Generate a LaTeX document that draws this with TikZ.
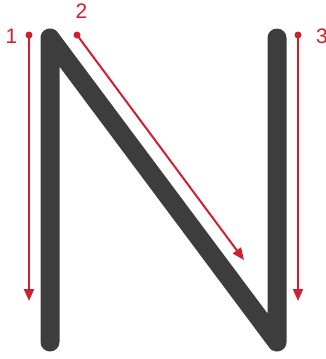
\documentclass[tikz,border=0pt]{standalone}
\usepackage{fontspec}
\setmainfont{Liberation Sans}
\usetikzlibrary{arrows.meta}
\definecolor{nred}{HTML}{D0202E}
\definecolor{ngray}{HTML}{3D3D3D}
\begin{document}
\begin{tikzpicture}[x=1pt,y=-1pt,
  letter/.style={draw=ngray,line width=19pt,line cap=round,line join=round},
  guide/.style={draw=nred,line width=2pt,-{Triangle[length=12pt,width=10pt]}},
  startdot/.style={fill=nred},
  numlabel/.style={text=nred,font=\fontsize{21}{21}\selectfont,inner sep=0pt}]
\useasboundingbox (0,0) rectangle (325,359);
\clip (0,0) rectangle (325,359);
\coordinate (bl) at (50,342);
\coordinate (tl) at (50,38);
\coordinate (br) at (277,342);
\coordinate (tr) at (277,38);
\draw[letter] (bl) -- (tl) -- (br) -- (tr);
\coordinate (s1) at (29,35);
\coordinate (e1) at (29,301);
\coordinate (s2) at (77,35);
\coordinate (e2) at (244,260);
\coordinate (s3) at (298,35);
\coordinate (e3) at (298,301);
\draw[guide] (s1) -- (e1);
\draw[guide] (s2) -- (e2);
\draw[guide] (s3) -- (e3);
\fill[startdot] (s1) circle (3.5);
\fill[startdot] (s2) circle (3.5);
\fill[startdot] (s3) circle (3.5);
\node[numlabel] (n1) at (11.5,36) {1};
\node[numlabel] (n2) at (81.5,11) {2};
\node[numlabel] (n3) at (322,36) {3};
\end{tikzpicture}
\end{document}
